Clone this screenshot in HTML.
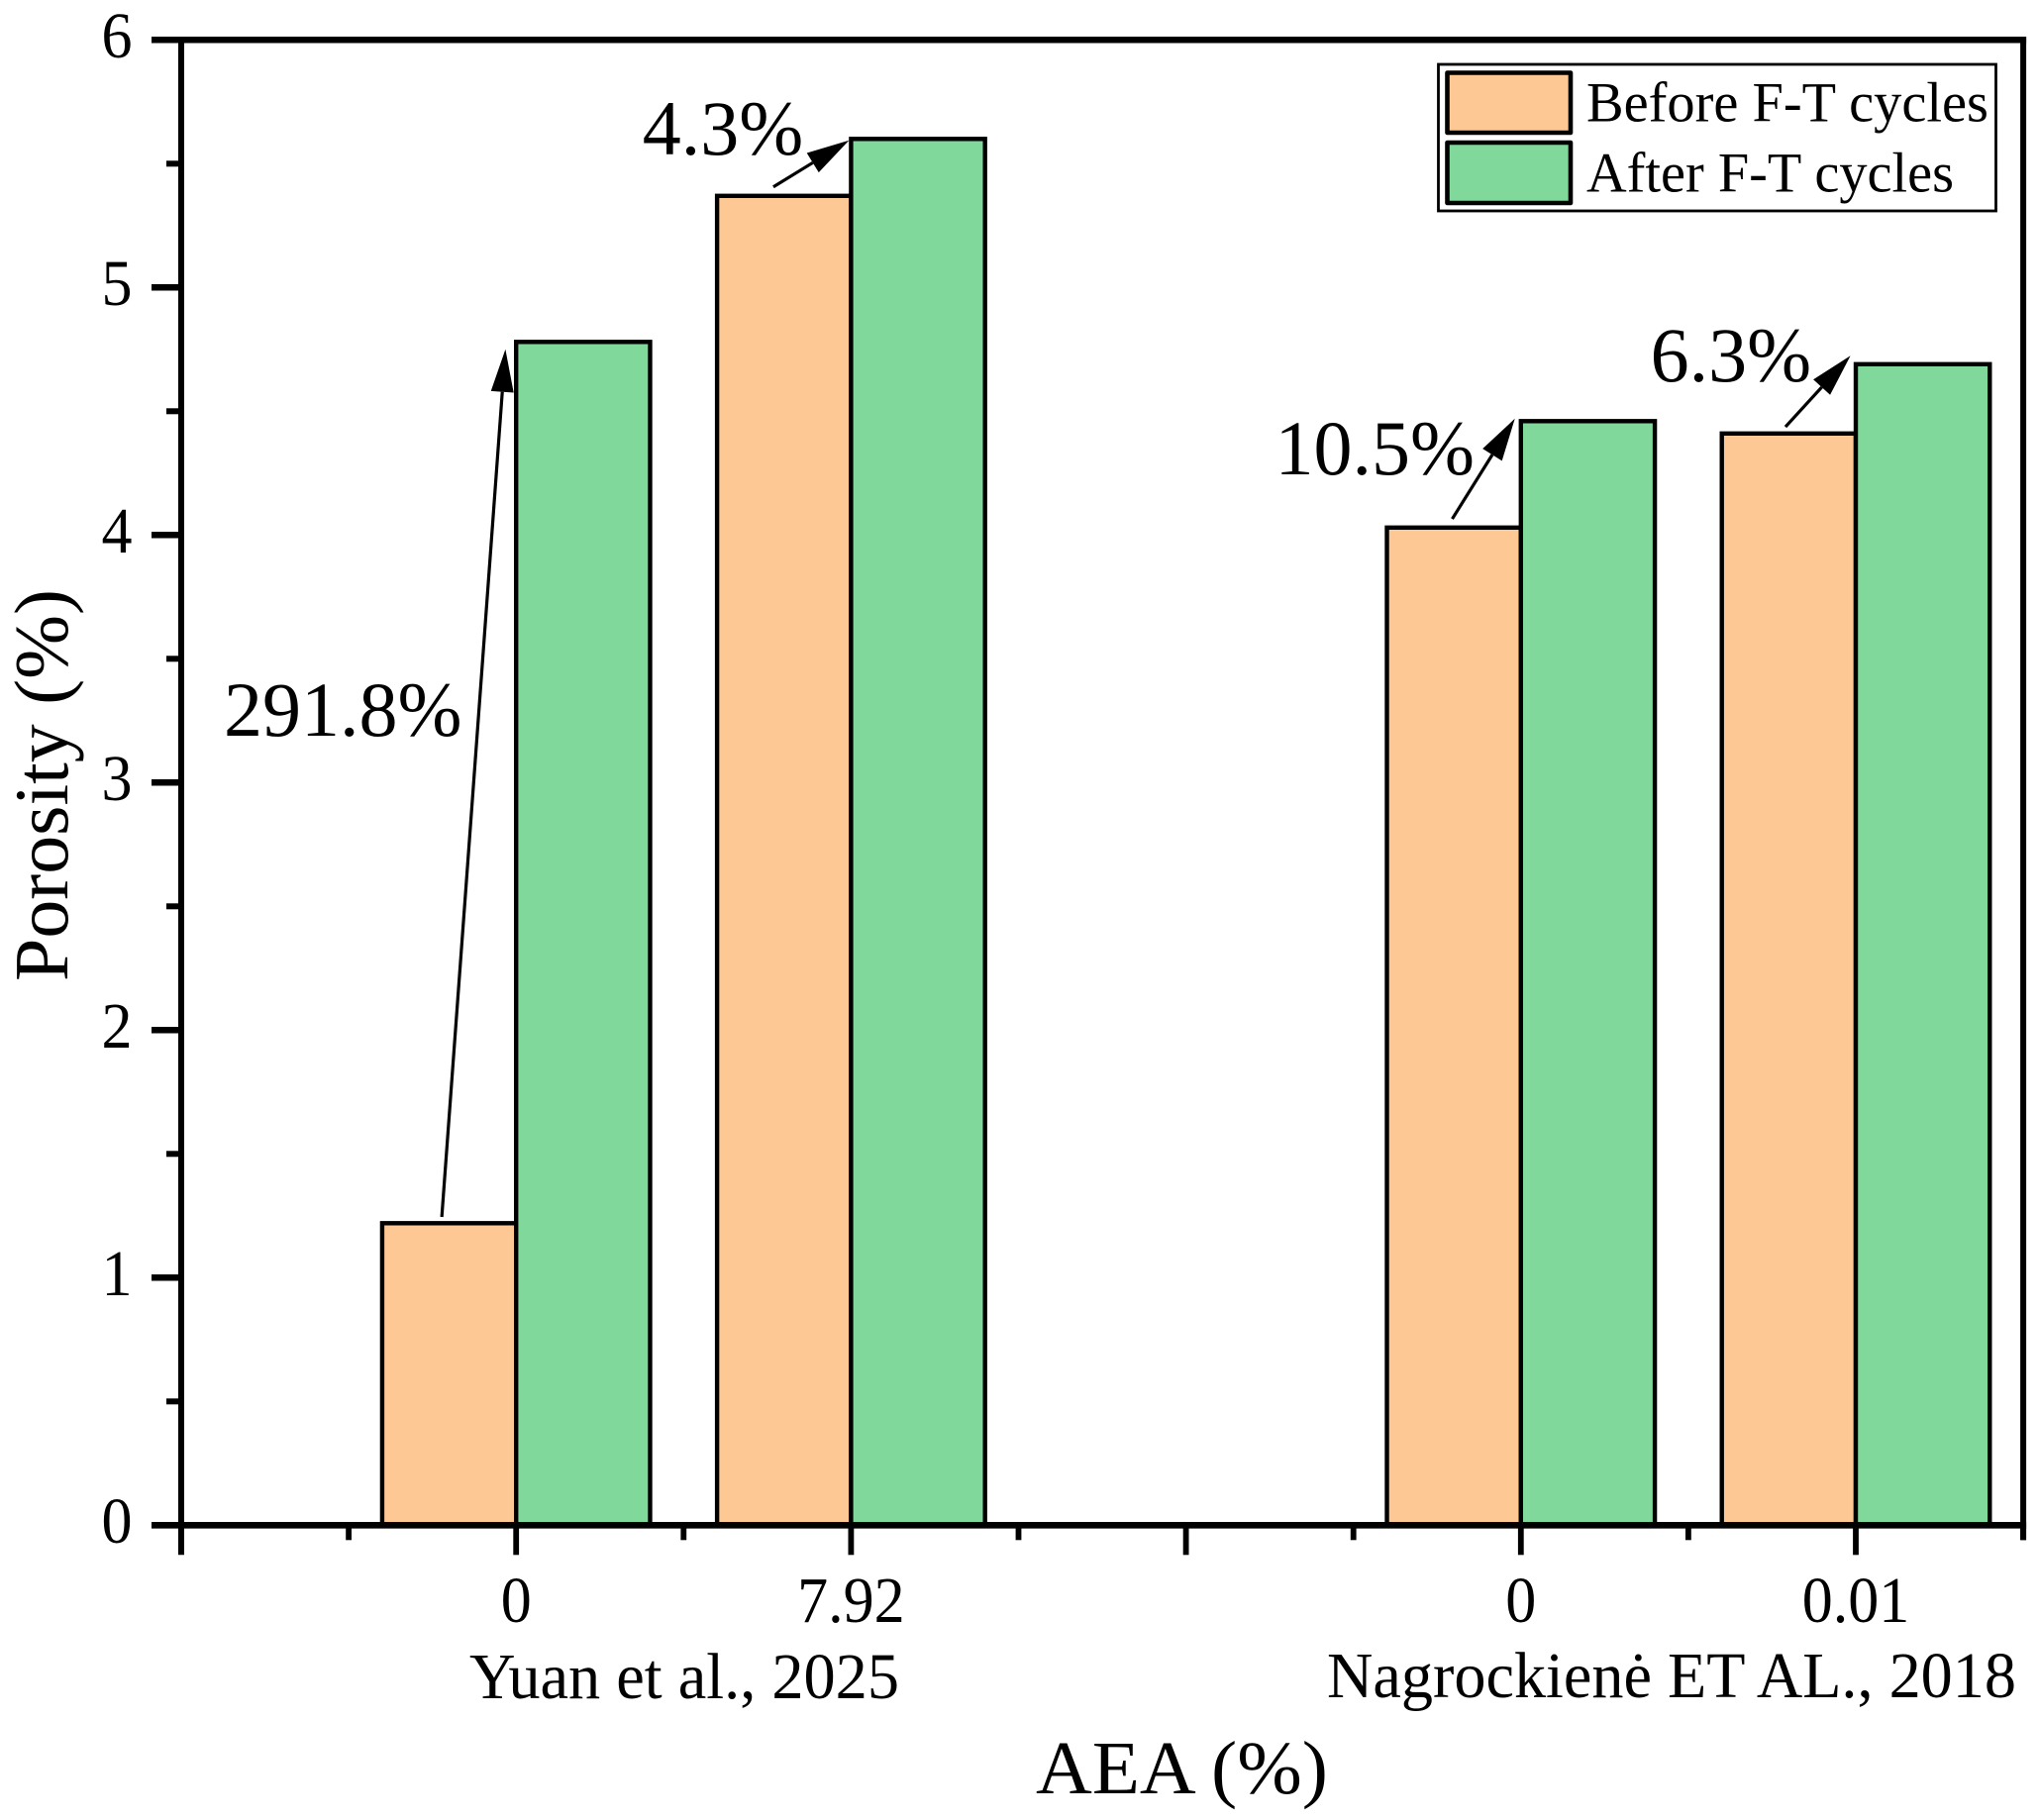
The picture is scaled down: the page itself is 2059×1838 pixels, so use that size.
<!DOCTYPE html>
<html lang="en">
<head>
<meta charset="utf-8">
<title>Porosity before and after F-T cycles</title>
<style>
html,body{margin:0;padding:0;background:#fff;width:2059px;height:1838px;overflow:hidden}
svg{display:block}
text{font-family:"Liberation Serif","Times New Roman",serif;fill:#000}
</style>
</head>
<body>
<svg id="chart" xmlns="http://www.w3.org/2000/svg" width="2059" height="1838" viewBox="0 0 2059 1838">
  <rect x="0" y="0" width="2059" height="1838" fill="#fff"/>
  <g id="bars"></g>
  <g id="arrows"></g>
  <g id="axes"></g>
  <text transform="translate(68,991) rotate(-90)" font-size="77" textLength="396" lengthAdjust="spacingAndGlyphs">Porosity (%)</text>
  <text x="1046" y="1811" font-size="76" textLength="295" lengthAdjust="spacingAndGlyphs">AEA (%)</text>
  <text x="474" y="1715" font-size="66" textLength="434" lengthAdjust="spacingAndGlyphs">Yuan et al., 2025</text>
  <text x="1340" y="1714" font-size="66" textLength="696" lengthAdjust="spacingAndGlyphs">Nagrockienė ET AL., 2018</text>
  <g>
    <rect x="1452.5" y="65" width="563" height="148" fill="#fff" stroke="#000" stroke-width="2.8"/>
    <rect x="1461.5" y="73.5" width="124.5" height="60.5" fill="#fec894" stroke="#000" stroke-width="4.6" stroke-linejoin="round"/>
    <text x="1602" y="122.7" font-size="57" textLength="406" lengthAdjust="spacingAndGlyphs">Before F-T cycles</text>
    <rect x="1461.5" y="144" width="124.5" height="61" fill="#80d89a" stroke="#000" stroke-width="4.6" stroke-linejoin="round"/>
    <text x="1602" y="193.3" font-size="57" textLength="371" lengthAdjust="spacingAndGlyphs">After F-T cycles</text>
  </g>
</svg>
<script>
// Chart data
const categoryLabels = ["0", "7.92", "0", "0.01"];
const categoryPositions = [1, 2, 4, 5];
const beforeValues = [1.22, 5.37, 4.03, 4.41];
const afterValues = [4.78, 5.6, 4.46, 4.69];
const changeLabels = ["291.8%", "4.3%", "10.5%", "6.3%"];
const yTickLabels = ["0", "1", "2", "3", "4", "5", "6"];

// Axis functions
const X0 = 183, X_UNIT = 338.2, Y0 = 1540.3, Y_UNIT = 250;
const X_MAX = 5.5, Y_MAX = 6, BAR_WIDTH = 0.4;
function xScale(v) { return X0 + X_UNIT * v; }
function yScale(v) { return Y0 - Y_UNIT * v; }

const SVG_NS = "http://www.w3.org/2000/svg";
function make(parent, tag, attrs, name) {
  const el = document.createElementNS(SVG_NS, tag);
  for (const k in attrs) el.setAttribute(k, attrs[k]);
  
  
  parent.appendChild(el);
  return el;
}
// Reference tick digits are slightly condensed
function condense(t) {
  t.setAttribute('textLength', t.getComputedTextLength() * 0.94);
  t.setAttribute('lengthAdjust', 'spacingAndGlyphs');
}

// Bars
const barsG = document.getElementById("bars");
categoryPositions.forEach(function (c, i) {
  make(barsG, "rect", {
    x: xScale(c - BAR_WIDTH), y: yScale(beforeValues[i]),
    width: xScale(c) - xScale(c - BAR_WIDTH), height: yScale(0) - yScale(beforeValues[i]),
    fill: "#fec894", stroke: "#000", "stroke-width": 4.4
  }, "bar-before-" + i);
  make(barsG, "rect", {
    x: xScale(c), y: yScale(afterValues[i]),
    width: xScale(c + BAR_WIDTH) - xScale(c), height: yScale(0) - yScale(afterValues[i]),
    fill: "#80d89a", stroke: "#000", "stroke-width": 4.4
  }, "bar-after-" + i);
});

// Change arrows: horizontal ends are offsets from the category, vertical ends offsets from the bar tops
const arrowTailDx = [-0.222, -0.232, -0.205, -0.21];
const arrowTipDx = [-0.032, -0.006, -0.018, -0.016];
const arrowTailDy = [0.025, 0.036, 0.035, 0.027];
const arrowTipDy = [-0.03, -0.006, 0.01, 0.034];
const labelDx = [-0.873, -0.623, -0.734, -0.613];
const labelDy = [-1.591, -0.063, -0.215, -0.069];
const arrowsG = document.getElementById("arrows");
const HEAD_LEN = 43, HEAD_W = 23;
categoryPositions.forEach(function (c, i) {
  const x1 = xScale(c + arrowTailDx[i]), y1 = yScale(beforeValues[i] + arrowTailDy[i]);
  const x2 = xScale(c + arrowTipDx[i]), y2 = yScale(afterValues[i] + arrowTipDy[i]);
  const len = Math.hypot(x2 - x1, y2 - y1);
  const ux = (x2 - x1) / len, uy = (y2 - y1) / len;
  const bx = x2 - ux * HEAD_LEN, by = y2 - uy * HEAD_LEN;
  make(arrowsG, "line", { x1: x1, y1: y1, x2: bx, y2: by, stroke: "#000", "stroke-width": 3.2 }, "arrow-shaft-" + i);
  const pts = [x2, y2, bx - uy * HEAD_W / 2, by + ux * HEAD_W / 2, bx + uy * HEAD_W / 2, by - ux * HEAD_W / 2].join(" ");
  make(arrowsG, "polygon", { points: pts, fill: "#000" }, "arrow-head-" + i);
  const t = make(arrowsG, "text", {
    x: xScale(c + labelDx[i]), y: yScale(afterValues[i] + labelDy[i]), "font-size": 78
  }, "change-label-" + i);
  t.textContent = changeLabels[i];
});

// Axes
const axesG = document.getElementById("axes");
const TOP = yScale(Y_MAX), RIGHT = xScale(X_MAX);
make(axesG, "line", { x1: X0, y1: TOP - 3.2, x2: X0, y2: Y0 + 30, stroke: "#000", "stroke-width": 6 }, "y-axis-line");
make(axesG, "line", { x1: RIGHT, y1: TOP - 3.2, x2: RIGHT, y2: Y0 + 15, stroke: "#000", "stroke-width": 6 }, "right-frame-line");
make(axesG, "line", { x1: X0 - 30, y1: TOP, x2: RIGHT + 3, y2: TOP, stroke: "#000", "stroke-width": 6.5 }, "top-frame-line");
make(axesG, "line", { x1: X0 - 30, y1: Y0, x2: RIGHT + 3, y2: Y0, stroke: "#000", "stroke-width": 6.7 }, "x-axis-line");

yTickLabels.forEach(function (lab, i) {
  if (i > 0 && i < Y_MAX) {
    make(axesG, "line", { x1: X0 - 30, y1: yScale(i), x2: X0, y2: yScale(i), stroke: "#000", "stroke-width": 6.5 }, "y-major-tick-" + i);
  }
  if (i < Y_MAX) {
    make(axesG, "line", { x1: X0 - 15, y1: yScale(i + 0.5), x2: X0, y2: yScale(i + 0.5), stroke: "#000", "stroke-width": 6 }, "y-minor-tick-" + i);
  }
  const t = make(axesG, "text", { x: 118, y: yScale(i) + 17.7, "font-size": 66, "text-anchor": "middle" }, "y-tick-label-" + lab);
  t.textContent = lab;
  condense(t);
});

for (let k = 1; k <= 11; k++) {
  const v = k / 2;
  const major = k % 2 === 0;
  make(axesG, "line", {
    x1: xScale(v), y1: Y0, x2: xScale(v), y2: Y0 + (major ? 30 : 15),
    stroke: "#000", "stroke-width": 5.8
  }, (major ? "x-major-tick-" : "x-minor-tick-") + k);
}
categoryPositions.forEach(function (c, i) {
  const t = make(axesG, "text", { x: xScale(c), y: 1638, "font-size": 66, "text-anchor": "middle" }, "x-tick-label-" + i);
  t.textContent = categoryLabels[i];
  condense(t);
});
</script>
</body>
</html>
